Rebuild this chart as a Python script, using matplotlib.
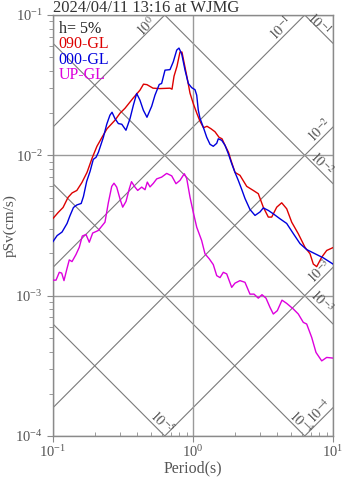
import numpy as np
import matplotlib
matplotlib.use("Agg")
import matplotlib.pyplot as plt
from matplotlib.ticker import LogLocator, NullFormatter

plt.rcParams['font.family'] = ['Liberation Serif', 'DejaVu Serif']
plt.rcParams['mathtext.fontset'] = 'stix'

title = "2024/04/11 13:16 at WJMG"
damping_label = "h= 5%"
component_labels = ["090-GL", "000-GL", "UP-GL"]

# Pseudo-velocity response spectra (cm/s) against period (s)
period_090 = [0.100, 0.109, 0.118, 0.128, 0.137, 0.148, 0.161, 0.175, 0.190, 0.206,
              0.224, 0.243, 0.277, 0.301, 0.327, 0.373, 0.418, 0.443, 0.469, 0.518,
              0.581, 0.685, 0.708, 0.732, 0.769, 0.807, 0.834, 0.862, 0.906, 0.952,
              1.008, 1.068, 1.122, 1.189, 1.259, 1.345, 1.436, 1.534, 1.611, 1.693,
              1.793, 1.868, 1.995, 2.166, 2.419, 2.696, 2.927, 3.178, 3.451, 3.649,
              3.962, 4.301, 4.670, 5.070, 5.652, 6.310, 6.850, 7.232, 7.648, 8.305,
              9.016, 10.0]
psv_090 = [3.55e-3, 3.92e-3, 4.25e-3, 5.01e-3, 5.40e-3, 5.62e-3, 6.41e-3, 7.56e-3, 9.52e-3, 1.160e-2,
           1.345e-2, 1.546e-2, 1.778e-2, 1.995e-2, 2.166e-2, 2.553e-2, 2.913e-2, 3.215e-2, 3.189e-2, 3.010e-2,
           2.99e-2, 3.01e-2, 2.96e-2, 3.667e-2, 4.322e-2, 5.441e-2, 5.441e-2, 4.617e-2, 3.606e-2, 2.773e-2,
           2.314e-2, 1.979e-2, 1.749e-2, 1.572e-2, 1.611e-2, 1.546e-2, 1.472e-2, 1.345e-2, 1.312e-2, 1.179e-2,
           1.051e-2, 9.21e-3, 7.56e-3, 7.20e-3, 6.01e-3, 5.62e-3, 5.33e-3, 4.27e-3, 3.63e-3, 3.63e-3,
           4.27e-3, 4.59e-3, 4.16e-3, 3.34e-3, 2.76e-3, 2.21e-3, 1.99e-3, 1.68e-3, 1.61e-3, 1.88e-3,
           2.10e-3, 2.20e-3]

period_000 = [0.100, 0.107, 0.116, 0.126, 0.132, 0.140, 0.148, 0.159, 0.165, 0.174,
              0.184, 0.194, 0.203, 0.211, 0.229, 0.242, 0.255, 0.264, 0.277, 0.293,
              0.310, 0.332, 0.355, 0.375, 0.396, 0.418, 0.442, 0.469, 0.507, 0.535,
              0.574, 0.597, 0.631, 0.685, 0.723, 0.765, 0.794, 0.831, 0.877, 0.926,
              0.979, 1.033, 1.063, 1.091, 1.122, 1.185, 1.253, 1.323, 1.396, 1.477,
              1.516, 1.603, 1.693, 1.787, 1.890, 1.995, 2.106, 2.228, 2.351, 2.553,
              2.773, 3.010, 3.178, 3.451, 3.746, 4.182, 4.670, 5.204, 5.811, 6.487,
              7.435, 8.525, 10.0]
psv_000 = [2.43e-3, 2.68e-3, 2.84e-3, 3.27e-3, 3.70e-3, 4.25e-3, 4.43e-3, 4.54e-3, 5.09e-3, 6.52e-3,
           7.69e-3, 9.36e-3, 9.68e-3, 1.051e-2, 1.345e-2, 1.665e-2, 1.931e-2, 2.028e-2, 1.829e-2, 1.684e-2,
           1.665e-2, 1.509e-2, 1.829e-2, 2.276e-2, 2.759e-2, 2.471e-2, 2.096e-2, 1.868e-2, 2.239e-2, 2.683e-2,
           3.199e-2, 3.252e-2, 4.046e-2, 4.08e-2, 4.639e-2, 5.623e-2, 5.811e-2, 5.266e-2, 4.046e-2, 3.252e-2,
           3.034e-2, 2.937e-2, 2.683e-2, 2.096e-2, 1.837e-2, 1.585e-2, 1.345e-2, 1.198e-2, 1.160e-2, 1.218e-2,
           1.312e-2, 1.28e-2, 1.179e-2, 1.028e-2, 8.72e-3, 7.56e-3, 6.63e-3, 5.72e-3, 4.93e-3, 4.11e-3,
           3.73e-3, 3.95e-3, 4.22e-3, 4.05e-3, 3.83e-3, 3.53e-3, 3.27e-3, 2.77e-3, 2.35e-3, 2.13e-3,
           1.99e-3, 1.86e-3, 1.68e-3]

period_up = [0.1000, 0.1051, 0.1109, 0.1154, 0.1198, 0.1253, 0.1307, 0.1367, 0.1459, 0.1541,
             0.1619, 0.1721, 0.1816, 0.1921, 0.2106, 0.2351, 0.2483, 0.2627, 0.2727, 0.2851,
             0.3010, 0.3147, 0.3322, 0.3508, 0.3637, 0.3852, 0.4027, 0.4301, 0.4542, 0.4716,
             0.4930, 0.5204, 0.5505, 0.5974, 0.6487, 0.7046, 0.7560, 0.8074, 0.8667, 0.9016,
             0.9519, 1.005, 1.063, 1.153, 1.218, 1.307, 1.396, 1.477, 1.560, 1.646,
             1.741, 1.890, 1.995, 2.166, 2.351, 2.553, 2.727, 2.927, 3.110, 3.322,
             3.548, 3.746, 4.001, 4.322, 4.670, 5.204, 5.652, 6.136, 6.487, 7.046,
             7.560, 8.305, 9.016, 10.0]
psv_up = [1.29e-3, 1.29e-3, 1.467e-3, 1.448e-3, 1.280e-3, 1.533e-3, 1.799e-3, 1.749e-3, 1.963e-3, 2.213e-3,
          2.661e-3, 2.728e-3, 2.403e-3, 2.795e-3, 2.913e-3, 3.339e-3, 4.579e-3, 6.006e-3, 6.329e-3, 5.937e-3,
          4.891e-3, 4.273e-3, 4.693e-3, 5.781e-3, 6.488e-3, 5.937e-3, 5.623e-3, 5.937e-3, 5.689e-3, 6.446e-3,
          5.957e-3, 6.310e-3, 6.795e-3, 6.998e-3, 7.435e-3, 7.140e-3, 6.279e-3, 6.630e-3, 7.399e-3, 6.850e-3,
          5.036e-3, 3.917e-3, 3.075e-3, 2.471e-3, 1.986e-3, 1.829e-3, 1.665e-3, 1.389e-3, 1.345e-3, 1.467e-3,
          1.429e-3, 1.146e-3, 1.228e-3, 1.280e-3, 1.245e-3, 1.025e-3, 1.026e-3, 9.60e-4, 1.016e-3, 9.60e-4,
          8.25e-4, 7.40e-4, 7.815e-4, 9.29e-4, 8.81e-4, 8.04e-4, 7.40e-4, 6.45e-4, 6.28e-4, 5.04e-4,
          3.94e-4, 3.43e-4, 3.63e-4, 3.59e-4]

# Tripartite guide lines: constant acceleration (cm/s^2) and constant displacement (cm)
accel_exponents = [0, -1, -2, -3, -4]
disp_exponents = [-1, -2, -3, -4, -5]

T_MIN, T_MAX = 0.1, 10.0
V_MIN, V_MAX = 1e-4, 1e-1

GRAY = '#7a7a7a'
TEXT = '#555555'

fig = plt.figure(figsize=(3.47, 4.78), dpi=100)
ax = fig.add_axes([53 / 347, 42 / 478, 280 / 347, 421 / 478])
ax.set_xscale('log')
ax.set_yscale('log')
ax.set_xlim(T_MIN, T_MAX)
ax.set_ylim(V_MIN, V_MAX)

tt = np.array([T_MIN, T_MAX])
two_pi = 2 * np.pi

# label offsets in pixels from the point where each guide leaves the frame
accel_offsets = {0: (-18, -12), -1: (-23, -13), -2: (-13, -3), -3: (-13, -4), -4: (-13, -4)}
disp_offsets = {-1: (-14, 19), -2: (-11, 20), -3: (-12, 22), -4: (-4, 13), -5: (-3, 14)}

for k in accel_exponents:
    sa = 10.0 ** k
    ax.plot(tt, sa * tt / two_pi, color=GRAY, lw=0.8, zorder=1)
    if sa * T_MAX / two_pi > V_MAX:
        end = (two_pi * V_MAX / sa, V_MAX)
    else:
        end = (T_MAX, sa * T_MAX / two_pi)
    ax.annotate(r'$10^{%d}$' % k, xy=end, xytext=accel_offsets[k],
                textcoords='offset pixels', rotation=45, ha='center', va='center',
                color=TEXT, fontsize=10, annotation_clip=False)

for k in disp_exponents:
    sd = 10.0 ** k
    ax.plot(tt, two_pi * sd / tt, color=GRAY, lw=0.8, zorder=1)
    if two_pi * sd / T_MAX >= V_MIN:
        end = (T_MAX, two_pi * sd / T_MAX)
    else:
        end = (two_pi * sd / V_MIN, V_MIN)
    ax.annotate(r'$10^{%d}$' % k, xy=end, xytext=disp_offsets[k],
                textcoords='offset pixels', rotation=-45, ha='center', va='center',
                color=TEXT, fontsize=10, annotation_clip=False)

# spectra
ax.plot(period_090, psv_090, color='#dd0000', lw=1.0, zorder=3)
ax.plot(period_000, psv_000, color='#0000dd', lw=1.0, zorder=4)
ax.plot(period_up, psv_up, color='#dd00dd', lw=1.0, zorder=3)

# axes styling
ax.xaxis.set_major_locator(LogLocator(base=10, numticks=10))
ax.yaxis.set_major_locator(LogLocator(base=10, numticks=10))
ax.xaxis.set_minor_locator(LogLocator(base=10, subs=np.arange(2, 10), numticks=10))
ax.yaxis.set_minor_locator(LogLocator(base=10, subs=np.arange(2, 10), numticks=10))
ax.xaxis.set_minor_formatter(NullFormatter())
ax.yaxis.set_minor_formatter(NullFormatter())
ax.grid(True, which='major', color='#9a9a9a', lw=1.0, zorder=0)
for s in ax.spines.values():
    s.set_color('#8a8a8a')
    s.set_linewidth(1.0)
ax.tick_params(which='both', colors='#8a8a8a', labelcolor=TEXT, labelsize=10.5)
ax.tick_params(which='major', length=4, direction='out')
ax.tick_params(axis='x', which='minor', length=3, direction='in')
ax.tick_params(axis='y', which='minor', length=3, direction='out')
ax.tick_params(axis='x', pad=2)

ax.set_xlabel('Period(s)', color=TEXT, fontsize=11.5, labelpad=0)
ax.set_ylabel('pSv(cm/s)', color=TEXT, fontsize=11)
ax.yaxis.set_label_coords(-0.13, 0.5)

fig.text(53 / 347, 1 - 12 / 478, title, color='#333333', fontsize=12,
         ha='left', va='baseline')

# legend text block
ax.text(0.02, 0.985, damping_label, transform=ax.transAxes, color='#222222',
        fontsize=11.5, ha='left', va='top')
for i, (lab, col) in enumerate(zip(component_labels, ['#dd0000', '#0000dd', '#dd00dd'])):
    ax.text(0.02, 0.985 - 0.036 * (i + 1), lab, transform=ax.transAxes, color=col,
            fontsize=11.5, ha='left', va='top')

fig.savefig('out.png', dpi=100)
